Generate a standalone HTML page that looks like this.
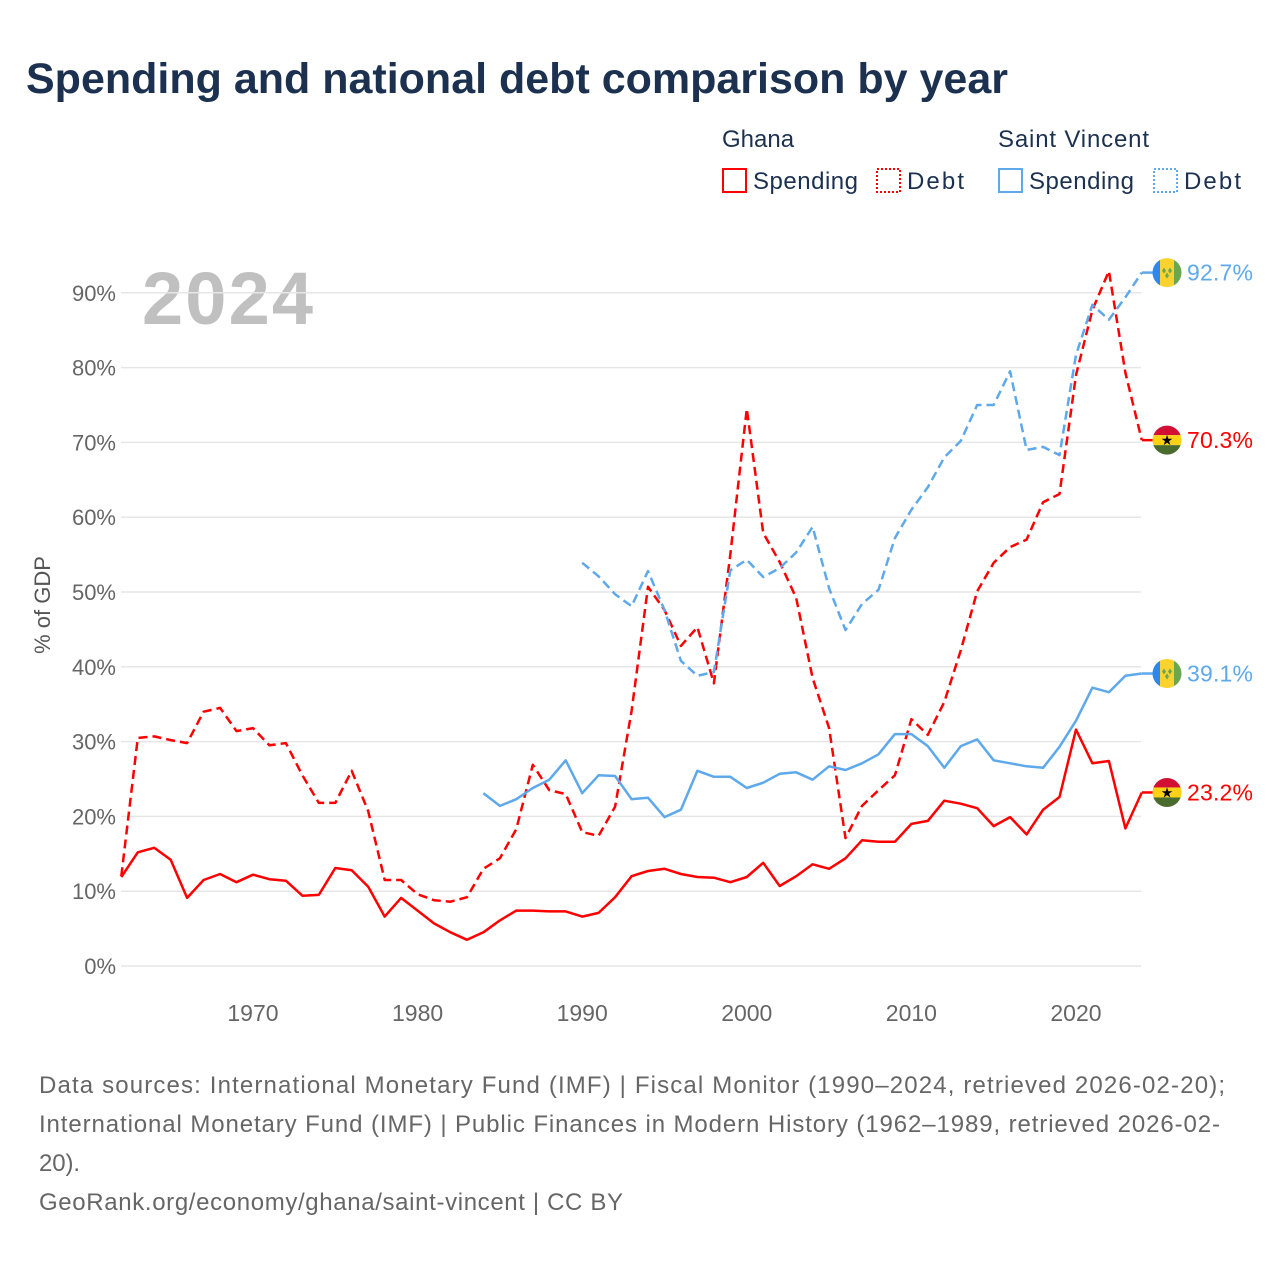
<!DOCTYPE html>
<html><head><meta charset="utf-8"><style>
body{margin:0;background:#fff;font-family:"Liberation Sans",sans-serif}
svg text{font-family:"Liberation Sans",sans-serif}
</style></head><body>
<svg id="chart" width="1280" height="1280" xmlns="http://www.w3.org/2000/svg">
<defs id="defs"></defs>
<text x="26" y="93" font-size="43" font-weight="bold" fill="#1c3150">Spending and national debt comparison by year</text>
<g font-size="24" fill="#1c3150">
<text x="722" y="147">Ghana</text>
<text x="998" y="147" textLength="151">Saint Vincent</text>
<g><rect x="723" y="169" width="23" height="23" fill="none" stroke="#f00" stroke-width="2"/><text x="753" y="189" textLength="105">Spending</text></g>
<g><rect x="877" y="169" width="23" height="23" fill="none" stroke="#f00" stroke-width="2" stroke-dasharray="2,2"/><text x="907" y="189" textLength="57">Debt</text></g>
<g><rect x="999" y="169" width="23" height="23" fill="none" stroke="#5ea8ec" stroke-width="2"/><text x="1029" y="189" textLength="105">Spending</text></g>
<g><rect x="1154" y="169" width="23" height="23" fill="none" stroke="#5ea8ec" stroke-width="2" stroke-dasharray="2,2"/><text x="1184" y="189" textLength="57">Debt</text></g>
</g>
<text x="142" y="324" font-size="74" font-weight="bold" fill="#c0c0c0" textLength="171">2024</text>
<text transform="translate(50,605) rotate(-90)" font-size="22" fill="#555" text-anchor="middle">% of GDP</text>
<g id="grid"></g><g id="series"></g><g id="ends"></g>
<g font-size="24" fill="#666">
<text x="39" y="1093" textLength="1186">Data sources: International Monetary Fund (IMF) | Fiscal Monitor (1990–2024, retrieved 2026-02-20);</text>
<text x="39" y="1132" textLength="1181">International Monetary Fund (IMF) | Public Finances in Modern History (1962–1989, retrieved 2026-02-</text>
<text x="39" y="1171" textLength="41">20).</text>
<text x="39" y="1210" textLength="584">GeoRank.org/economy/ghana/saint-vincent | CC BY</text>
</g>
</svg>
<script>
const yTicks=[0,10,20,30,40,50,60,70,80,90];
const xTicks=[1970,1980,1990,2000,2010,2020];
const ghanaSpendStart=1962;
const ghanaSpending=[11.9,15.2,15.8,14.2,9.1,11.5,12.3,11.2,12.2,11.6,11.4,9.4,9.5,13.1,12.8,10.6,6.6,9.1,7.4,5.7,4.5,3.5,4.5,6.1,7.4,7.4,7.3,7.3,6.6,7.1,9.2,12.0,12.7,13.0,12.3,11.9,11.8,11.2,11.9,13.8,10.7,12.0,13.6,13.0,14.4,16.8,16.6,16.6,19.0,19.4,22.1,21.7,21.1,18.7,19.9,17.6,20.9,22.6,31.6,27.1,27.4,18.4,23.2];
const ghanaDebt=[12.0,30.5,30.7,30.2,29.8,34.0,34.5,31.4,31.8,29.5,29.8,25.5,21.8,21.8,26.1,20.7,11.5,11.5,9.6,8.8,8.6,9.2,13.0,14.4,18.3,26.9,23.5,23.0,17.9,17.4,21.3,34.1,50.7,47.6,42.8,45.3,37.8,55.0,74.5,57.9,54.0,49.2,38.5,31.8,17.1,21.4,23.5,25.5,33.0,30.9,35.3,42.2,50.1,53.9,56.0,57.0,62.0,63.1,79.0,87.7,92.9,79.3,70.3];
const svSpendStart=1984;
const svSpending=[23.1,21.4,22.3,23.8,24.9,27.5,23.1,25.5,25.4,22.3,22.5,19.9,20.9,26.1,25.3,25.3,23.8,24.5,25.7,25.9,24.9,26.7,26.2,27.1,28.3,31.0,31.0,29.4,26.5,29.4,30.3,27.5,27.1,26.7,26.5,29.3,32.8,37.2,36.6,38.8,39.1];
const svDebtStart=1990;
const svDebt=[53.9,52.1,49.7,48.1,52.8,47.6,40.8,38.8,39.3,52.9,54.3,52.0,53.2,55.3,58.7,50.5,44.9,48.4,50.3,57.2,61.0,64.0,68.0,70.2,75.0,75.0,79.5,69.0,69.4,68.3,81.7,88.4,86.4,89.4,92.7];
const NS='http://www.w3.org/2000/svg';
const X=yr=>121.3+(yr-1962)*16.46;
const Y=v=>966-v*7.48;
function mk(tag,attrs,parent){const e=document.createElementNS(NS,tag);for(const k in attrs)e.setAttribute(k,attrs[k]);parent.appendChild(e);return e;}
const grid=document.getElementById('grid');
yTicks.forEach(t=>{
 const l=mk('line',{x1:121,x2:1141,y1:Y(t),y2:Y(t),stroke:'#e6e6e6','stroke-width':1.5},grid);
 
 
 const tx=mk('text',{x:116,y:Y(t)+8,'text-anchor':'end','font-size':22,fill:'#666'},grid);
 tx.textContent=t+'%';
 
 
});
xTicks.forEach(t=>{
 const tx=mk('text',{x:X(t),y:1021,'text-anchor':'middle','font-size':23,fill:'#666'},grid);
 tx.textContent=t;
 
 
});
const ser=document.getElementById('series');
function line(arr,start,color,dash,name){
 const d=arr.map((v,i)=>(i?'L':'M')+X(start+i).toFixed(1)+','+Y(v).toFixed(1)).join(' ');
 const p=mk('path',{d:d,fill:'none',stroke:color,'stroke-width':2.5,'stroke-linejoin':'round'},ser);
 if(dash)p.setAttribute('stroke-dasharray',dash);
 
 
}
line(ghanaDebt,ghanaSpendStart,'#ff0000','9,5','ghana-debt-line');
line(svDebt,svDebtStart,'#5ea8ec','9,5','svg-debt-line');
line(svSpending,svSpendStart,'#5ea8ec',null,'svg-spending-line');
line(ghanaSpending,ghanaSpendStart,'#ff0000',null,'ghana-spending-line');
const ends=document.getElementById('ends');
const defs=document.getElementById('defs');
let cid=0;
function endLabel(v,color,country,name,dash){
 const y=Y(v);
 const l=mk('line',{x1:1142,x2:1153,y1:y,y2:y,stroke:color,'stroke-width':2.5},ends);
 const cx=1167;
 const cp=mk('clipPath',{id:'cp'+(++cid)},defs);
 mk('circle',{cx:cx,cy:y,r:14.5},cp);
 const g=mk('g',{'clip-path':'url(#cp'+cid+')'},ends);
 
 
 if(country==='gh'){
  mk('rect',{x:cx-15,y:y-15,width:30,height:10,fill:'#d21034'},g);
  mk('rect',{x:cx-15,y:y-5,width:30,height:10,fill:'#fcd116'},g);
  mk('rect',{x:cx-15,y:y+5,width:30,height:10,fill:'#4a6b2e'},g);
  const s=mk('text',{x:cx,y:y+5,'text-anchor':'middle','font-size':14,fill:'#000'},g);s.textContent='★';
 }else{
  mk('rect',{x:cx-15,y:y-15,width:8,height:30,fill:'#2f87ea'},g);
  mk('rect',{x:cx-7,y:y-15,width:14,height:30,fill:'#fcd22e'},g);
  mk('rect',{x:cx+7,y:y-15,width:8,height:30,fill:'#6aa84f'},g);
  mk('path',{d:`M${cx-5},${y-2}l2,-3l2,3l-2,3z M${cx+1},${y-2}l2,-3l2,3l-2,3z M${cx-2},${y+3}l2,-3l2,3l-2,3z`,fill:'#6aa84f'},g);
 }
 const t=mk('text',{x:1187,y:y+8,'font-size':23,fill:color,textLength:66},ends);
 t.textContent=v.toFixed(1)+'%';
 
 
}
endLabel(svDebt[svDebt.length-1],'#5ea8ec','sv','svg-debt-end',true);
endLabel(ghanaDebt[ghanaDebt.length-1],'#ff0000','gh','ghana-debt-end',true);
endLabel(svSpending[svSpending.length-1],'#5ea8ec','sv','svg-spending-end',false);
endLabel(ghanaSpending[ghanaSpending.length-1],'#ff0000','gh','ghana-spending-end',false);
</script>
</body></html>
